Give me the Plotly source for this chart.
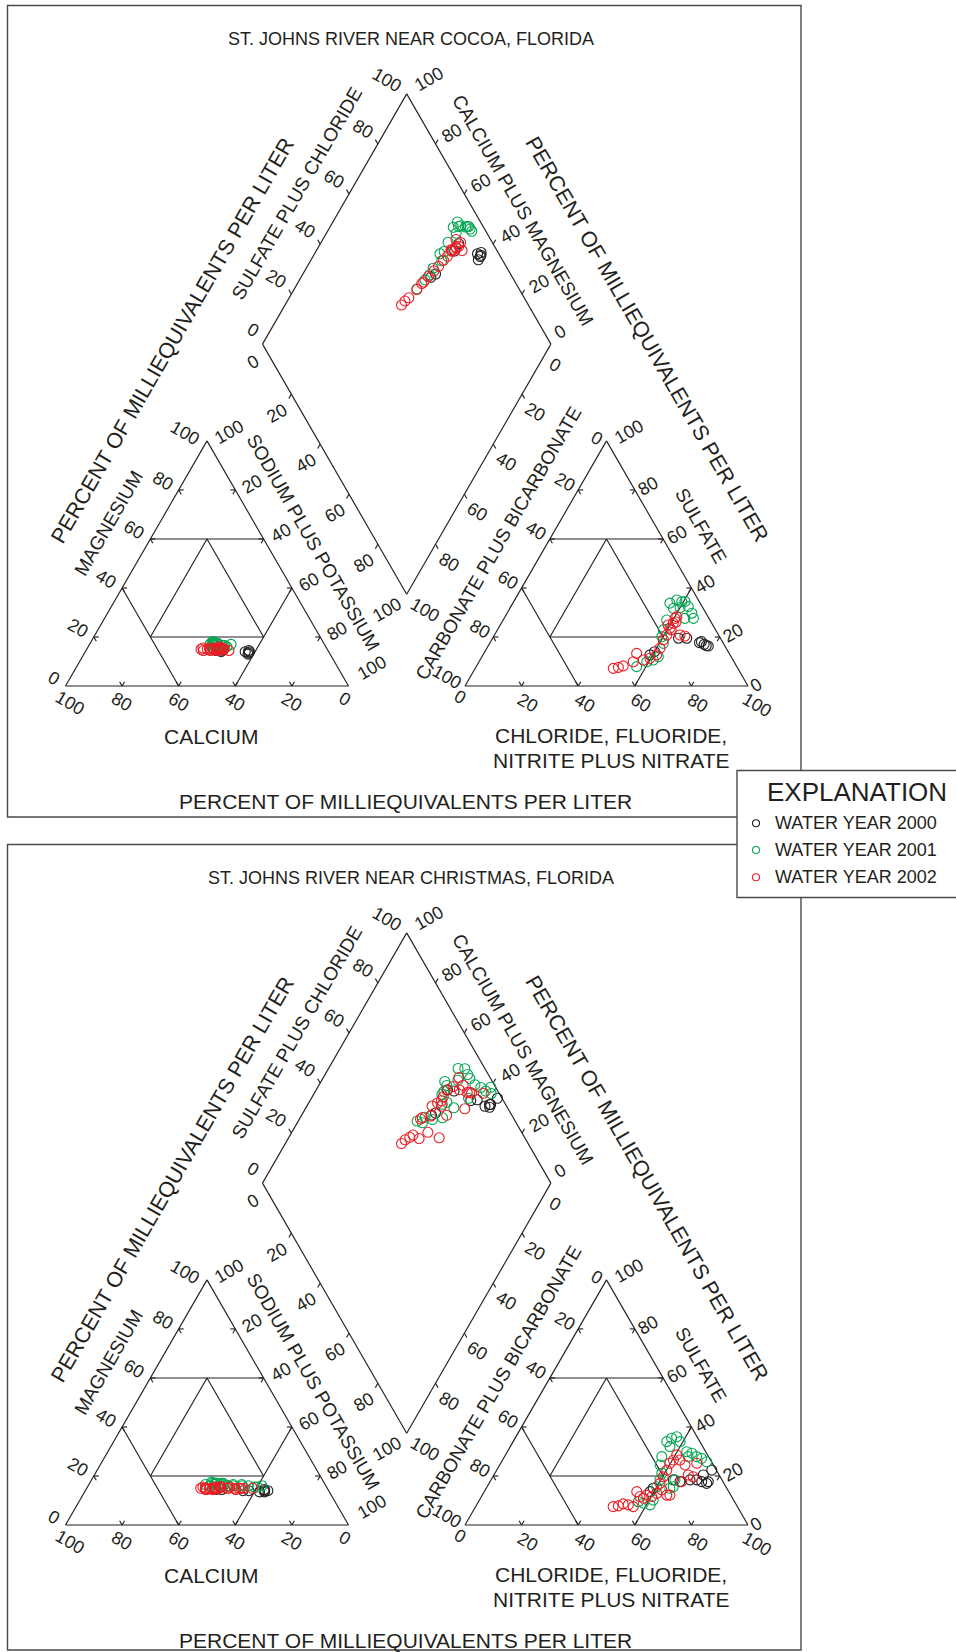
import numpy as np
import plotly.graph_objects as go

# Sample compositions, percent of total milliequivalents per liter.
# Cations: calcium (ca), magnesium (mg); sodium plus potassium is the remainder.
# Anions: chloride+fluoride+nitrite+nitrate (cl), sulfate (so4);
# carbonate plus bicarbonate is the remainder.

# St. Johns River near Cocoa, Florida
cocoa_2000_ca = [28.0, 28.5, 29.0, 29.5, 37.4, 38.0, 40.0, 39.5, 28.0]
cocoa_2000_mg = [14.0, 13.5, 13.0, 14.0, 14.6, 14.0, 15.0, 14.5, 14.5]
cocoa_2000_cl = [77.0, 76.0, 74.0, 74.5, 65.7, 68.6, 59.0, 60.0, 77.8]
cocoa_2000_so4 = [16.5, 17.0, 17.7, 18.1, 19.5, 19.5, 12.7, 14.0, 16.3]

cocoa_2001_ca = [37.5, 37.9, 36.5, 33.0, 35.0, 36.0, 38.0, 39.2, 39.0, 39.0, 39.5, 38.5, 39.0, 39.4, 39.0, 40.5, 38.8, 35.5]
cocoa_2001_mg = [17.5, 17.0, 16.5, 17.0, 16.0, 16.5, 17.5, 18.0, 17.0, 16.5, 17.0, 16.0, 17.0, 16.5, 17.5, 17.0, 18.0, 16.5]
cocoa_2001_cl = [55.5, 57.3, 59.4, 62.7, 65.3, 66.9, 63.9, 57.8, 57.8, 58.6, 59.5, 61.4, 62.3, 61.2, 59.3, 56.7, 60.0, 60.5]
cocoa_2001_so4 = [33.8, 35.1, 34.4, 32.4, 29.7, 27.6, 27.6, 31.7, 26.9, 22.9, 20.1, 17.4, 12.0, 10.6, 9.9, 7.9, 32.0, 34.5]

cocoa_2002_ca = [44.6, 43.7, 44.0, 42.4, 41.4, 41.5, 41.5, 40.2, 39.0, 39.0, 38.9, 38.2, 36.9, 37.8, 36.6, 37.0, 35.0, 37.8, 38.0, 36.5]
cocoa_2002_mg = [15.0, 15.5, 14.5, 15.0, 15.5, 15.0, 14.5, 15.0, 15.5, 15.0, 14.5, 15.0, 15.5, 16.0, 15.0, 15.0, 14.5, 15.0, 15.5, 15.0]
cocoa_2002_cl = [48.8, 50.4, 51.8, 54.5, 54.0, 57.7, 59.7, 61.4, 61.2, 60.7, 60.9, 60.6, 60.8, 60.4, 60.7, 65.6, 67.5, 61.4, 59.3, 61.5]
cocoa_2002_so4 = [7.2, 7.6, 8.2, 9.9, 13.3, 10.6, 11.3, 12.7, 15.4, 18.8, 20.8, 23.6, 25.6, 27.6, 28.3, 20.8, 20.4, 22.9, 24.9, 26.1]

# St. Johns River near Christmas, Florida
xmas_2000_ca = [40.0, 39.5, 39.5, 37.5, 30.3, 28.2, 24.7, 22.9, 22.6, 22.5, 21.5]
xmas_2000_mg = [15.0, 14.5, 15.0, 14.5, 14.0, 14.0, 13.5, 13.5, 14.0, 14.5, 14.0]
xmas_2000_cl = [58.6, 59.0, 64.4, 67.1, 70.3, 72.7, 74.8, 76.9, 77.1, 74.0, 76.0]
xmas_2000_so4 = [13.6, 15.0, 18.4, 17.7, 18.4, 18.4, 17.7, 17.0, 17.7, 20.4, 22.4]

xmas_2001_ca = [42.3, 39.6, 40.8, 37.3, 34.6, 36.4, 39.0, 36.2, 38.4, 32.7, 38.6, 39.6, 36.3, 29.5, 38.1, 32.5, 35.7, 34.6, 29.5, 27.4, 25.5, 22.6, 24.5]
xmas_2001_mg = [16.5, 17.0, 16.0, 16.5, 16.0, 17.0, 16.5, 16.0, 17.0, 16.0, 17.0, 17.5, 16.5, 16.0, 17.0, 16.5, 17.0, 16.0, 16.5, 16.0, 15.5, 16.0, 15.5]
xmas_2001_cl = [56.5, 58.6, 61.3, 61.4, 59.9, 59.7, 64.9, 59.0, 56.7, 65.8, 65.0, 55.6, 54.3, 56.4, 55.3, 56.8, 59.0, 64.9, 63.4, 65.5, 67.9, 70.0, 72.5]
xmas_2001_so4 = [9.5, 8.9, 8.2, 10.2, 15.6, 18.4, 15.0, 21.1, 24.5, 15.6, 18.4, 27.9, 34.0, 32.0, 35.4, 36.0, 34.0, 27.9, 29.9, 29.3, 27.9, 27.2, 25.8]

xmas_2002_ca = [44.7, 43.7, 43.1, 42.9, 39.6, 37.3, 43.0, 43.2, 32.8, 39.5, 41.6, 40.8, 38.3, 34.2, 39.4, 40.1, 39.6, 29.7, 37.7, 35.4, 32.6, 31.3, 30.5, 26.4, 37.5, 35.0]
xmas_2002_mg = [15.0, 15.5, 15.0, 14.5, 15.0, 15.5, 15.0, 14.5, 15.0, 15.5, 15.0, 14.5, 15.0, 15.5, 15.0, 14.5, 15.0, 15.0, 15.5, 15.0, 14.5, 15.0, 15.0, 15.0, 15.5, 15.0]
xmas_2002_cl = [48.6, 50.3, 51.6, 53.6, 55.7, 53.9, 56.0, 57.6, 58.1, 60.2, 61.3, 62.4, 65.2, 60.4, 66.3, 60.2, 60.1, 59.8, 67.7, 60.4, 60.5, 65.5, 70.8, 69.3, 62.7, 68.7]
xmas_2002_so4 = [7.5, 7.8, 8.6, 8.2, 7.5, 13.6, 11.6, 10.9, 12.2, 11.6, 12.9, 14.3, 12.2, 17.0, 12.2, 19.7, 22.4, 25.2, 17.7, 26.5, 28.6, 24.5, 19.7, 25.2, 26.5, 20.4]

water_years = ["2000", "2001", "2002"]
year_colors = ["#231f20", "#00a651", "#ed1c24"]
scale_values = [0, 20, 40, 60, 80, 100]

stations = [
    ("ST. JOHNS RIVER NEAR COCOA, FLORIDA", [
        (cocoa_2000_ca, cocoa_2000_mg, cocoa_2000_cl, cocoa_2000_so4),
        (cocoa_2001_ca, cocoa_2001_mg, cocoa_2001_cl, cocoa_2001_so4),
        (cocoa_2002_ca, cocoa_2002_mg, cocoa_2002_cl, cocoa_2002_so4)]),
    ("ST. JOHNS RIVER NEAR CHRISTMAS, FLORIDA", [
        (xmas_2000_ca, xmas_2000_mg, xmas_2000_cl, xmas_2000_so4),
        (xmas_2001_ca, xmas_2001_mg, xmas_2001_cl, xmas_2001_so4),
        (xmas_2002_ca, xmas_2002_mg, xmas_2002_cl, xmas_2002_so4)]),
]

# ---------------- page geometry (pixels, y downward) ----------------
W, H = 956, 1652
INK = "#231f20"
FRAME = "#4a4a4a"
FONT = "Liberation Sans, Arial, Helvetica, sans-serif"
SIDE = 283.0
TRI_H = SIDE * np.sqrt(3) / 2
CAT_X0, AN_X0, BASE_Y = 65.5, 465.0, 686.0
DIA_BX, DIA_BY, DIA_HW, DIA_HH = 406.7, 594.3, 144.2, 250.2
PANEL_DY = [0.0, 839.0]
TICK = 5.0


def tri_xy(x0, y0, bl, top, br):
    """Ternary point: bl = bottom-left vertex, top = apex, br = bottom-right."""
    return x0 + SIDE * (br + top / 2.0) / 100.0, y0 - TRI_H * top / 100.0


def dia_xy(camg, so4cl, dy):
    x = DIA_BX + DIA_HW * (so4cl - camg) / 100.0
    y = DIA_BY + dy - DIA_HH * (camg + so4cl) / 100.0
    return x, y


fig = go.Figure()
annotations = []
shapes = []


def label(x, y, text, angle=0, size=18, xanchor="center"):
    annotations.append(dict(
        x=x, y=y, xref="x", yref="y", text=text, showarrow=False,
        textangle=angle, xanchor=xanchor, yanchor="middle",
        font=dict(family=FONT, size=size, color=INK)))


def seg(xs, ys, p, q):
    xs += [p[0], q[0], None]
    ys += [p[1], q[1], None]


for panel, (title, series) in enumerate(stations):
    dy = PANEL_DY[panel]
    by = BASE_Y + dy
    lx, ly = [], []

    # frame around the station panel
    y_top = 5.5 + dy
    y_bot = 817.0 if panel == 0 else 1650.0
    shapes.append(dict(type="rect", xref="x", yref="y", x0=7.5, x1=801.0,
                       y0=y_top, y1=y_bot, line=dict(color=FRAME, width=1.4),
                       fillcolor="rgba(0,0,0,0)", layer="below"))

    # ---- the two ternary triangles ----
    for x0 in (CAT_X0, AN_X0):
        P = lambda a, b, c: tri_xy(x0, by, a, b, c)
        outline = [P(100, 0, 0), P(0, 0, 100), P(0, 100, 0), P(100, 0, 0)]
        for i in range(3):
            seg(lx, ly, outline[i], outline[i + 1])
        for p, q in [((60, 0, 40), (60, 40, 0)), ((40, 0, 60), (0, 40, 60)),
                     ((40, 60, 0), (0, 60, 40)), ((60, 20, 20), (20, 20, 60)),
                     ((60, 20, 20), (20, 60, 20)), ((20, 20, 60), (20, 60, 20))]:
            seg(lx, ly, P(*p), P(*q))
        # chevron ticks pointing inward along the grid directions
        for v in (20, 40, 60, 80):
            for pt, dirs in [(P(v, 0, 100 - v), [(-0.5, -0.866), (0.5, -0.866)]),
                             (P(100 - v, v, 0), [(1, 0), (0.5, 0.866)]),
                             (P(0, 100 - v, v), [(-1, 0), (-0.5, 0.866)])]:
                for d in dirs:
                    seg(lx, ly, pt, (pt[0] + TICK * d[0], pt[1] + TICK * d[1]))

    # ---- the diamond ----
    dv = [dia_xy(100, 0, dy), dia_xy(100, 100, dy), dia_xy(0, 100, dy), dia_xy(0, 0, dy)]
    for i in range(4):
        seg(lx, ly, dv[i], dv[(i + 1) % 4])
    for v in (20, 40, 60, 80):
        for pt, d in [(dia_xy(100, v, dy), (-0.5, -0.866)),
                      (dia_xy(v, 100, dy), (0.5, -0.866)),
                      (dia_xy(100 - v, 0, dy), (-0.5, 0.866)),
                      (dia_xy(0, 100 - v, dy), (0.5, 0.866))]:
            seg(lx, ly, pt, (pt[0] + TICK * d[0], pt[1] + TICK * d[1]))

    fig.add_trace(go.Scatter(x=lx, y=ly, mode="lines", hoverinfo="skip",
                             line=dict(color=INK, width=1.15)))

    # ---- scale numbers ----
    def scale(points, texts, off_mid, off_first, off_last, angle):
        for i, ((x, y), t) in enumerate(zip(points, texts)):
            off = off_first if i == 0 else off_last if i == len(points) - 1 else off_mid
            label(x + off[0], y + off[1], t, angle)

    sv = scale_values
    nums = [str(v) for v in sv]
    # cation triangle
    scale([tri_xy(CAT_X0, by, 100 - v, v, 0) for v in sv], nums,
          (-16, -9), (-12, -8), (-22, -8), 30)
    scale([tri_xy(CAT_X0, by, 0, 100 - v, v) for v in sv], ["100"] + nums[1:],
          (17, -6), (22, -9), (23, -18), -30)
    scale([tri_xy(CAT_X0, by, v, 0, 100 - v) for v in sv[::-1]], nums[::-1],
          (0, 15.5), (4.5, 17), (-3.5, 12.5), 30)
    # anion triangle
    scale([tri_xy(AN_X0, by, v, 100 - v, 0) for v in sv], nums,
          (-13.5, -8), (-10, -3), (-18, -9), 30)
    scale([tri_xy(AN_X0, by, 0, v, 100 - v) for v in sv[::-1]], nums[::-1],
          (13.5, -4), (22, -9), (8, -1), -30)
    scale([tri_xy(AN_X0, by, 100 - v, 0, v) for v in sv], nums,
          (6.5, 16.5), (-5, 11), (8.7, 19), 30)
    # diamond
    scale([dia_xy(100, v, dy) for v in sv], nums, (-15, -15), (-9.4, -14), (-20, -14), 30)
    scale([dia_xy(v, 100, dy) for v in sv], nums, (16.5, -10.5), (9, -12.3), (22.6, -14.7), -30)
    scale([dia_xy(100 - v, 0, dy) for v in sv], nums, (-14, 19), (-9.4, 17.7), (-20, 15.7), -30)
    scale([dia_xy(0, 100 - v, dy) for v in sv], nums, (13, 18), (4, 21), (18.3, 15.7), 30)

    # ---- names of the plotted constituents ----
    label(411, 39 + dy, title, size=18)
    label(172.5, 341 + dy, "PERCENT OF MILLIEQUIVALENTS PER LITER", -60, 21.5)
    label(646.5, 339 + dy, "PERCENT OF MILLIEQUIVALENTS PER LITER", 60, 21.5)
    label(296.7, 193.3 + dy, "SULFATE PLUS CHLORIDE", -60, 19)
    label(523.3, 210 + dy, "CALCIUM PLUS MAGNESIUM", 60, 19)
    label(108.3, 523.3 + dy, "MAGNESIUM", -60, 19)
    label(313.3, 542.4 + dy, "SODIUM PLUS POTASSIUM", 60, 19)
    label(498, 543 + dy, "CARBONATE PLUS BICARBONATE", -60, 19)
    label(701, 525 + dy, "SULFATE", 60, 19)
    label(211.7, 736.5 + dy, "CALCIUM", size=21)
    label(611, 735.5 + dy, "CHLORIDE, FLUORIDE,", size=21)
    label(611, 760.5 + dy, "NITRITE PLUS NITRATE", size=21)
    label(405, 801 + dy, "PERCENT OF MILLIEQUIVALENTS PER LITER", size=21)

    # ---- samples: same colour in all three plotting fields ----
    for (ca, mg, cl, so4), color in zip(series, year_colors):
        xs, ys = [], []
        for c, m, a, s in zip(ca, mg, cl, so4):
            nak = 100.0 - c - m
            hco3 = 100.0 - a - s
            for x, y in (tri_xy(CAT_X0, by, c, m, nak),
                         tri_xy(AN_X0, by, hco3, s, a),
                         dia_xy(c + m, a + s, dy)):
                xs.append(x)
                ys.append(y)
        fig.add_trace(go.Scatter(
            x=xs, y=ys, mode="markers", hoverinfo="skip",
            marker=dict(symbol="circle-open", size=10, color=color,
                        line=dict(width=1.1, color=color))))

# ---- explanation box ----
shapes.append(dict(type="rect", xref="x", yref="y", x0=737, x1=962, y0=770.5, y1=897.5,
                   line=dict(color=FRAME, width=1.4), fillcolor="white", layer="below"))
label(856.7, 792, "EXPLANATION", size=26)
leg_y = [823.3, 850.0, 877.3]
fig.add_trace(go.Scatter(
    x=[756.0] * 3, y=leg_y, mode="markers", hoverinfo="skip",
    marker=dict(symbol="circle-open", size=7, color=year_colors,
                line=dict(width=1.1, color=year_colors))))
for yy, wy in zip(leg_y, water_years):
    label(773, yy, "WATER YEAR " + wy, size=18, xanchor="left")

fig.update_layout(
    width=W, height=H, margin=dict(l=0, r=0, t=0, b=0),
    paper_bgcolor="white", plot_bgcolor="white", showlegend=False,
    xaxis=dict(range=[0, W], visible=False, fixedrange=True),
    yaxis=dict(range=[H, 0], visible=False, fixedrange=True),
    annotations=annotations, shapes=shapes)

fig.write_html("out.html", config={"displayModeBar": False})
